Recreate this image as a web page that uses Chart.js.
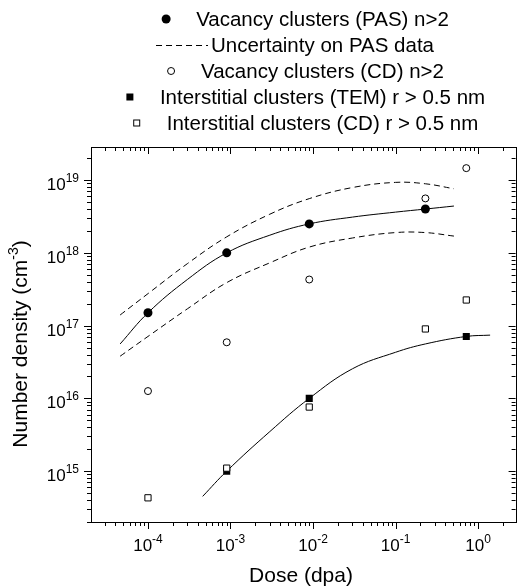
<!DOCTYPE html>
<html>
<head>
<meta charset="utf-8">
<script src="https://cdn.jsdelivr.net/npm/chart.js@4.4.0/dist/chart.umd.min.js"></script>
<style>
  html, body { margin: 0; padding: 0; background: #fff; }
  #wrap { width: 521px; height: 588px; }
</style>
</head>
<body>
<div id="wrap"><canvas id="chart" width="521" height="588"></canvas></div>
<script>
// values (dose in dpa, density in cm^-3)
const pasDose = [1e-4, 9e-4, 9e-3, 0.23];
const pasDensity = [1.5e17, 1.0e18, 2.5e18, 4.0e18];

const fitDose = [4.6e-5, 1e-4, 3e-4, 9e-4, 3e-3, 9e-3, 3e-2, 0.1, 0.23, 0.51];
const pasFit = [5.6e16, 1.5e17, 4.3e17, 1.0e18, 1.75e18, 2.5e18, 3.1e18, 3.63e18, 4.0e18, 4.4e18];
const pasUpper = [1.4e17, 2.75e17, 7.1e17, 1.66e18, 3.4e18, 5.56e18, 7.9e18, 9.3e18, 8.9e18, 7.6e18];
const pasLower = [3.8e16, 7.1e16, 1.7e17, 3.9e17, 7.3e17, 1.2e18, 1.6e18, 1.9e18, 1.9e18, 1.7e18];

const cdVacDose = [1e-4, 9e-4, 9e-3, 0.23, 0.72];
const cdVacDensity = [1.26e16, 5.9e16, 4.3e17, 5.6e18, 1.46e19];

const temDose = [9e-4, 9e-3, 0.72];
const temDensity = [1.0e15, 1.0e16, 7.1e16];
const temFitDose = [4.6e-4, 9e-4, 3e-3, 9e-3, 3e-2, 0.1, 0.23, 0.72, 1.4];
const temFit = [4.5e14, 1.0e15, 3.5e15, 1.0e16, 2.55e16, 4.3e16, 5.6e16, 7.1e16, 7.4e16];

const cdIntDose = [1e-4, 9e-4, 9e-3, 0.23, 0.72];
const cdIntDensity = [4.3e14, 1.1e15, 7.6e15, 9.0e16, 2.25e17];

const xTickExps = [-4, -3, -2, -1, 0];
const yTickExps = [15, 16, 17, 18, 19];

const legendLabels = [
    'Vacancy clusters (PAS) n>2',
    'Uncertainty on PAS data',
    'Vacancy clusters (CD) n>2',
    'Interstitial clusters (TEM) r > 0.5 nm',
    'Interstitial clusters (CD) r > 0.5 nm'
];
const legendSymbols = ['dot', 'dash', 'ring', 'block', 'box'];

const FONT = '"Liberation Sans", Arial, sans-serif';
const DASH = [6, 4];

function pts(xs, ys) {
    return xs.map((x, i) => ({ x: x, y: ys[i] }));
}

function drawPow(ctx, x, y, exp, align) {
    ctx.font = '17px ' + FONT;
    const wb = ctx.measureText('10').width;
    ctx.font = '12px ' + FONT;
    const ws = ctx.measureText(exp).width;
    const x0 = align === 'right' ? x - wb - ws : x - (wb + ws) / 2;
    ctx.textAlign = 'left';
    ctx.textBaseline = 'alphabetic';
    ctx.font = '17px ' + FONT;
    ctx.fillText('10', x0, y);
    ctx.font = '12px ' + FONT;
    ctx.fillText(exp, x0 + wb, y - 8);
}

function drawSymbol(ctx, kind, x, y) {
    ctx.save();
    ctx.strokeStyle = '#000';
    ctx.fillStyle = '#000';
    ctx.lineWidth = 1;
    if (kind === 'dot') {
        ctx.beginPath(); ctx.arc(x, y, 4.5, 0, Math.PI * 2); ctx.fill();
    } else if (kind === 'ring') {
        ctx.fillStyle = '#fff';
        ctx.beginPath(); ctx.arc(x, y, 3.5, 0, Math.PI * 2); ctx.fill(); ctx.stroke();
    } else if (kind === 'block') {
        ctx.fillRect(x - 3.5, y - 3.5, 7, 7);
    } else if (kind === 'box') {
        ctx.fillStyle = '#fff';
        ctx.fillRect(x - 3, y - 3, 6, 6);
        ctx.strokeRect(x - 3, y - 3, 6, 6);
    }
    ctx.restore();
}

const framePlugin = {
    id: 'frame',
    afterDraw(chart) {
        const ctx = chart.ctx;
        const xs = chart.scales.x, ys = chart.scales.y;
        const a = chart.chartArea;
        ctx.save();
        ctx.strokeStyle = '#000';
        ctx.fillStyle = '#000';
        ctx.lineWidth = 1;
        ctx.strokeRect(Math.round(a.left) + 0.5, Math.round(a.top) + 0.5,
            Math.round(a.right - a.left), Math.round(a.bottom - a.top));

        // tick marks: majors at powers of ten, minors at 2..9
        ctx.beginPath();
        for (let e = -5; e <= 1; e++) {
            for (let m = 1; m <= 9; m++) {
                const v = m * Math.pow(10, e);
                if (v < xs.min || v > xs.max) continue;
                const px = Math.round(xs.getPixelForValue(v)) + 0.5;
                const len = m === 1 ? 7 : 4;
                ctx.moveTo(px, a.bottom); ctx.lineTo(px, a.bottom + len);
                ctx.moveTo(px, a.top); ctx.lineTo(px, a.top + len);
            }
        }
        for (let e = 14; e <= 19; e++) {
            for (let m = 1; m <= 9; m++) {
                const v = m * Math.pow(10, e);
                if (v < ys.min || v > ys.max) continue;
                const py = Math.round(ys.getPixelForValue(v)) + 0.5;
                const len = m === 1 ? 7 : 4;
                ctx.moveTo(a.left, py); ctx.lineTo(a.left - len, py);
                ctx.moveTo(a.right, py); ctx.lineTo(a.right - len, py);
            }
        }
        ctx.stroke();

        // tick labels
        xTickExps.forEach(e => {
            const px = xs.getPixelForValue(Math.pow(10, e));
            drawPow(ctx, px, a.bottom + 29, String(e), 'center');
        });
        yTickExps.forEach(e => {
            const py = ys.getPixelForValue(Math.pow(10, e));
            drawPow(ctx, a.left - 12, py + 10, String(e), 'right');
        });

        // axis titles
        ctx.font = '21px ' + FONT;
        ctx.textAlign = 'center';
        ctx.textBaseline = 'alphabetic';
        ctx.fillText('Dose (dpa)', 301, 582);

        ctx.save();
        ctx.translate(27, 344);
        ctx.rotate(-Math.PI / 2);
        ctx.textAlign = 'left';
        const t1 = 'Number density (cm', t2 = '-3', t3 = ')';
        ctx.font = '21px ' + FONT;
        const w1 = ctx.measureText(t1).width, w3 = ctx.measureText(t3).width;
        ctx.font = '14px ' + FONT;
        const w2 = ctx.measureText(t2).width;
        let sx = -(w1 + w2 + w3) / 2;
        ctx.font = '21px ' + FONT;
        ctx.fillText(t1, sx, 0);
        ctx.font = '14px ' + FONT;
        ctx.fillText(t2, sx + w1, -9);
        ctx.font = '21px ' + FONT;
        ctx.fillText(t3, sx + w1 + w2, 0);
        ctx.restore();

        // legend, one entry per line, centred over the plot
        const rowY = [19, 45, 71, 97, 123];
        ctx.font = '20.5px ' + FONT;
        ctx.textAlign = 'left';
        legendLabels.forEach((label, i) => {
            const w = ctx.measureText(label).width;
            const symX = 307.5 - (30 + w) / 2;
            const textX = symX + 30;
            if (legendSymbols[i] === 'dash') {
                ctx.save();
                ctx.setLineDash(DASH);
                ctx.beginPath();
                ctx.moveTo(textX - 55, rowY[i] + 0.5);
                ctx.lineTo(textX - 3, rowY[i] + 0.5);
                ctx.stroke();
                ctx.restore();
            } else {
                drawSymbol(ctx, legendSymbols[i], symX, rowY[i]);
            }
            ctx.fillStyle = '#000';
            ctx.font = '20.5px ' + FONT;
            ctx.fillText(label, textX, rowY[i] + 7);
        });
        ctx.restore();
    }
};

const lineStyle = {
    showLine: true,
    pointRadius: 0,
    borderColor: '#000',
    borderWidth: 1,
    tension: 0.4,
    fill: false
};

const hiddenAxis = {
    type: 'logarithmic',
    grid: { display: false, drawTicks: false, tickLength: 0 },
    border: { display: false },
    ticks: { display: false }
};

new Chart(document.getElementById('chart'), {
    type: 'scatter',
    data: {
        datasets: [
            { label: legendLabels[4], data: pts(cdIntDose, cdIntDensity), pointStyle: 'rect',
              pointRadius: 4.4, backgroundColor: '#fff', borderColor: '#000', borderWidth: 1 },
            { label: legendLabels[3], data: pts(temDose, temDensity), pointStyle: 'rect',
              pointRadius: 5, backgroundColor: '#000', borderColor: '#000', borderWidth: 0 },
            { label: legendLabels[2], data: pts(cdVacDose, cdVacDensity), pointStyle: 'circle',
              pointRadius: 3.5, backgroundColor: '#fff', borderColor: '#000', borderWidth: 1 },
            { label: legendLabels[0], data: pts(pasDose, pasDensity), pointStyle: 'circle',
              pointRadius: 4.5, backgroundColor: '#000', borderColor: '#000', borderWidth: 0 },
            Object.assign({ label: 'PAS fit', data: pts(fitDose, pasFit) }, lineStyle),
            Object.assign({ label: 'upper', data: pts(fitDose, pasUpper), borderDash: DASH }, lineStyle),
            Object.assign({ label: 'lower', data: pts(fitDose, pasLower), borderDash: DASH }, lineStyle),
            Object.assign({ label: 'TEM fit', data: pts(temFitDose, temFit) }, lineStyle)
        ]
    },
    options: {
        responsive: false,
        animation: false,
        devicePixelRatio: 1,
        layout: { padding: { left: 91, top: 147, right: 0, bottom: 66 } },
        plugins: {
            legend: { display: false },
            tooltip: { enabled: false }
        },
        scales: {
            x: Object.assign({ min: 2.04e-5, max: 2.85 }, hiddenAxis),
            y: Object.assign({ min: 2e14, max: 2.85e19 }, hiddenAxis)
        }
    },
    plugins: [framePlugin]
});
</script>
</body>
</html>
